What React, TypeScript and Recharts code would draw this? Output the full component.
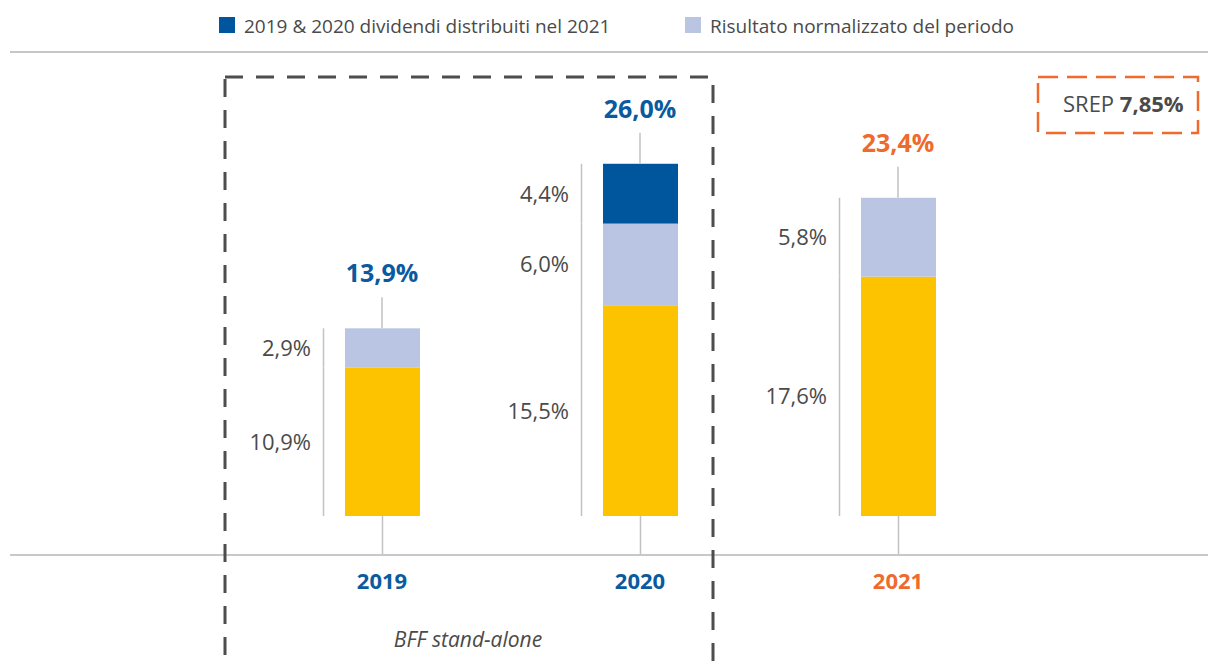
import React from 'react';
import { ComposedChart, Bar, Line, XAxis, YAxis } from 'recharts';

// ---- data ----
const categories = ['2019', '2020', '2021'];
const coreCapital = [10.9, 15.5, 17.6];
const normalizedResult = [2.9, 6.0, 5.8];
const dividends = [0, 4.4, 0];
const totalLabels = ['13,9%', '26,0%', '23,4%'];
const categoryColors = ['#0A5AA0', '#0A5AA0', '#EF6A2D'];
const legendLabels = ['2019 & 2020 dividendi distribuiti nel 2021', 'Risultato normalizzato del periodo'];
const srepLabel = 'SREP';
const srepValue = '7,85%';
const groupLabel = 'BFF stand-alone';

const YELLOW = '#FDC300';
const LIGHT = '#B9C5E3';
const DARK = '#00569D';
const legendColors = [DARK, LIGHT];
const TEXT = '#4a4a4a';
const CONNECTOR = '#c2c2c2';
const FONT = "'Open Sans', sans-serif";

const fmt = (v: number) => v.toFixed(1).replace('.', ',') + '%';

const data = categories.map((c, i) => ({
  year: c,
  base: coreCapital[i],
  result: normalizedResult[i],
  dividend: dividends[i],
  top: coreCapital[i] + normalizedResult[i] + dividends[i],
  label: totalLabels[i],
  color: categoryColors[i],
}));

const makeSegment = (key: string, fill: string, withBottom: boolean) => (props: any) => {
  const { x, y, width, height, payload, background } = props;
  const v = payload ? payload[key] : 0;
  if (!v || !height) return <g />;
  const cx = x + width / 2;
  const axisY = background && background.height ? background.y + background.height : y + height + 39;
  const lx = x - 21.5;
  return (
    <g>
      <rect x={x} y={y} width={width} height={height} fill={fill} />
      <line x1={lx} x2={lx} y1={y} y2={y + height} stroke={CONNECTOR} strokeWidth={1.5} />
      <text
        x={x - 34}
        y={y + height / 2 + 8}
        textAnchor="end"
        fontFamily={FONT}
        fontSize={22}
        fill={TEXT}
      >
        {fmt(v)}
      </text>
      {withBottom && (
        <line x1={cx} x2={cx} y1={y + height} y2={axisY} stroke={CONNECTOR} strokeWidth={1.5} />
      )}
    </g>
  );
};

const TotalMarker = (props: any) => {
  const { cx, cy, payload } = props;
  if (cx == null || cy == null) return <g />;
  return (
    <g>
      <line x1={cx} x2={cx} y1={cy - 31} y2={cy} stroke={CONNECTOR} strokeWidth={1.5} />
      <text
        x={cx}
        y={cy - 46}
        textAnchor="middle"
        fontFamily={FONT}
        fontWeight={700}
        fontSize={25}
        fill={payload.color}
      >
        {payload.label}
      </text>
    </g>
  );
};

const YearTick = (props: any) => {
  const { x, y, payload, index } = props;
  return (
    <text
      x={x}
      y={y + 34}
      textAnchor="middle"
      fontFamily={FONT}
      fontWeight={700}
      fontSize={22}
      fill={categoryColors[index] || TEXT}
    >
      {payload.value}
    </text>
  );
};

export default function App() {
  return (
    <div style={{ position: 'fixed', left: 0, top: 0, width: 1208, height: 666, background: '#fff' }}>
      <div style={{ position: 'absolute', left: 0, top: 0 }}>
        <ComposedChart
          width={1208}
          height={666}
          data={data}
          margin={{ top: 80, right: 0, left: 10, bottom: 71 }}
        >
          <XAxis
            dataKey="year"
            height={40}
            padding={{ left: 243, right: 181 }}
            axisLine={{ stroke: '#c8c8c8', strokeWidth: 2 }}
            tickLine={false}
            tickSize={0}
            tickMargin={0}
            interval={0}
            tick={<YearTick />}
          />
          <YAxis hide type="number" domain={[-2.868, 32.06]} allowDataOverflow />
          <Bar dataKey="base" stackId="s" barSize={75} fill={YELLOW} isAnimationActive={false}
            shape={makeSegment('base', YELLOW, true)} />
          <Bar dataKey="result" stackId="s" barSize={75} fill={LIGHT} isAnimationActive={false}
            shape={makeSegment('result', LIGHT, false)} />
          <Bar dataKey="dividend" stackId="s" barSize={75} fill={DARK} isAnimationActive={false}
            shape={makeSegment('dividend', DARK, false)} />
          <Line
            dataKey="top"
            stroke="none"
            isAnimationActive={false}
            activeDot={false}
            dot={(p: any) => <TotalMarker key={`t-${p.index}`} {...p} />}
          />
        </ComposedChart>
      </div>
      <svg
        width={1208}
        height={666}
        style={{ position: 'absolute', left: 0, top: 0, pointerEvents: 'none' }}
      >
        {/* legend */}
        <rect x={219} y={17} width={16} height={16} fill={legendColors[0]} />
        <text x={244} y={33} fontFamily={FONT} fontSize={19} fill={TEXT}>{legendLabels[0]}</text>
        <rect x={685} y={17} width={16} height={16} fill={legendColors[1]} />
        <text x={710} y={33} fontFamily={FONT} fontSize={19} fill={TEXT}>{legendLabels[1]}</text>
        <line x1={10} x2={1208} y1={52} y2={52} stroke="#b4b4b4" strokeWidth={1.5} />

        {/* BFF stand-alone dashed box */}
        <rect x={225} y={77} width={488} height={700} fill="none" stroke="#4d4d4d"
          strokeWidth={3} strokeDasharray="18 13" />
        <text x={468} y={647} textAnchor="middle" fontFamily={FONT} fontStyle="italic"
          fontSize={21} fill={TEXT}>{groupLabel}</text>

        {/* SREP box */}
        <rect x={1038} y={77} width={160} height={56} fill="none" stroke="#EF6A2D"
          strokeWidth={2.5} strokeDasharray="20 9" />
        <text x={1063} y={112} fontFamily={FONT} fontSize={22} fill={TEXT}>
          {srepLabel + ' '}
          <tspan fontWeight={700}>{srepValue}</tspan>
        </text>
      </svg>
    </div>
  );
}
